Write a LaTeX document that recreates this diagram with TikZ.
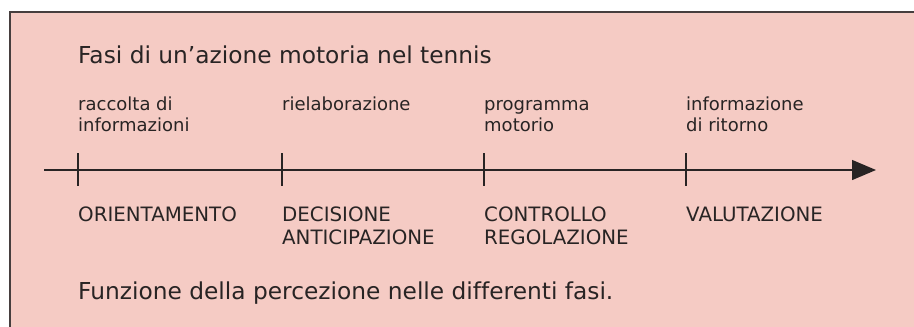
\documentclass[tikz,border=0pt]{standalone}
\usepackage{fontspec}
\setmainfont[Ligatures=NoCommon]{DejaVu Sans}
\usetikzlibrary{arrows.meta}
\definecolor{pinkbg}{RGB}{245,203,196}
\definecolor{ink}{RGB}{40,36,36}
\definecolor{frame}{RGB}{70,62,62}
\begin{document}
\begin{tikzpicture}[x=1pt,y=-1pt,
  txt/.style={anchor=base west, inner sep=0pt, text=ink, align=left},
  big/.style={txt, font=\fontsize{23.3}{27}\selectfont},
  lower/.style={txt, font=\fontsize{18}{21.7}\selectfont},
  upper/.style={txt, font=\fontsize{19.8}{22.3}\selectfont},
  tickmark/.style={draw=ink, line width=1.3pt},
  axisline/.style={draw=ink, line width=1.3pt, -{Triangle[length=24pt,width=20pt]}}]
\useasboundingbox (0,0) rectangle (914,327);
\fill[white] (0,0) rectangle (914,327);
\fill[pinkbg] (10,12) rectangle (914,327);
\draw[frame, line width=1.6pt] (10,327) -- (10,12) -- (914,12);
\node[big] (title) at (78,63.3) {Fasi di un'azione motoria nel tennis};
% two-line nodes: base anchor is the baseline of the last line
\node[lower] (l1) at (78,131.7) {raccolta di\\informazioni};
\node[lower] (l2) at (282,110) {rielaborazione};
\node[lower] (l3) at (484,131.7) {programma\\motorio};
\node[lower] (l4) at (686,131.7) {informazione\\di ritorno};
\coordinate (start) at (44,170);
\coordinate (tip) at (876,170);
\draw[axisline] (start) -- (tip);
\foreach \x/\n in {78/t1,282/t2,484/t3,686/t4}{
  \coordinate (\n a) at (\x,153);
  \coordinate (\n b) at (\x,186);
  \draw[tickmark] (\n a) -- (\n b);
}
\node[upper] (u1) at (78,221.7) {ORIENTAMENTO};
\node[upper] (u2) at (282,244) {DECISIONE\\ANTICIPAZIONE};
\node[upper] (u3) at (484,244) {CONTROLLO\\REGOLAZIONE};
\node[upper] (u4) at (686,221.7) {VALUTAZIONE};
\node[big] (caption) at (78,299) {Funzione della percezione nelle differenti fasi.};
\end{tikzpicture}
\end{document}
